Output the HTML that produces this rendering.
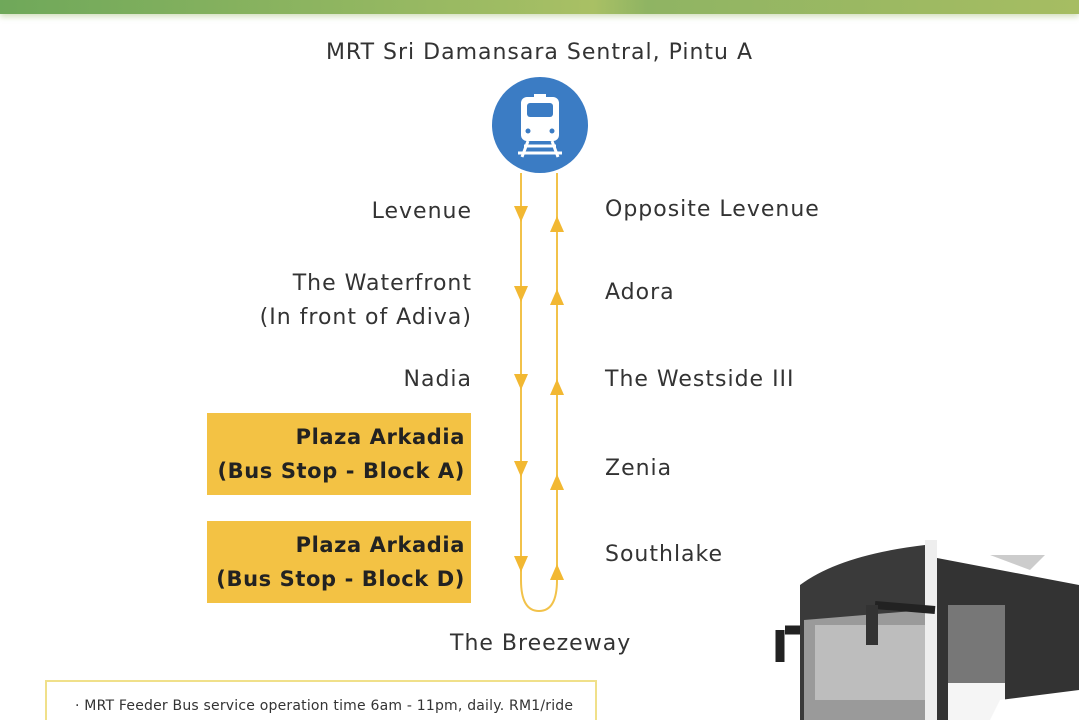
<!DOCTYPE html>
<html><head><meta charset="utf-8"><style>
body{margin:0;width:1079px;height:720px;background:#fff;position:relative;overflow:hidden;font-family:"DejaVu Sans",sans-serif;color:#333}
.t{position:absolute;font-size:22px;white-space:nowrap;line-height:34px;letter-spacing:1px}
.r{text-align:right}
.box{position:absolute;left:207px;width:264px;height:82px;background:#f3c244;font-weight:bold;font-size:21px;color:#222;text-align:right;box-sizing:border-box;padding:7px 6px 0 0;line-height:34px;letter-spacing:0.6px}
</style></head><body>
<div style="position:absolute;left:0;top:0;width:1079px;height:14px;background:linear-gradient(90deg,#6fa85a,#9dbb63 45%,#a9c064 55%,#8fb463 60%,#a6bd62);box-shadow:0 3px 6px rgba(150,180,100,.4)"></div>
<div class="t" style="left:0;width:1079px;text-align:center;top:36px">MRT Sri Damansara Sentral, Pintu A</div>
<svg style="position:absolute;left:0;top:0" width="1079" height="720">
<circle cx="540" cy="125" r="48" fill="#3b7cc4"/>
<rect x="521" y="97" width="38" height="44" rx="6" fill="#fff"/>
<rect x="527" y="103" width="26" height="14" rx="3" fill="#3b7cc4"/>
<rect x="534" y="94" width="12" height="3" fill="#fff"/>
<circle cx="528" cy="131" r="2.5" fill="#3b7cc4"/><circle cx="552" cy="131" r="2.5" fill="#3b7cc4"/>
<path d="M524 146h32M518 153h44M528 141l-6 16M552 141l6 16" stroke="#fff" stroke-width="3"/>
<g stroke="#f2c24a" stroke-width="2" fill="none">
<path d="M521 173V580Q521 611 539 611Q557 611 557 580V173"/>
</g>
<g fill="#f2b832">
<path d="M514 206h14l-7 16zM514 286h14l-7 16zM514 374h14l-7 16zM514 461h14l-7 16zM514 556h14l-7 16z"/>
<path d="M550 232h14l-7-16zM550 305h14l-7-16zM550 395h14l-7-16zM550 490h14l-7-16zM550 580h14l-7-16z"/>
</g>
<path d="M800 585Q840 555 925 545L925 720L800 720Z" fill="#3a3a3a"/>
<path d="M804 620L925 610V720H804Z" fill="#9a9a9a"/>
<path d="M815 625H925V700H815Z" fill="#bdbdbd"/>
<rect x="925" y="540" width="12" height="180" fill="#eee"/>
<path d="M937 558L1079 585V720H937Z" fill="#333"/>
<path d="M948 605H1005V683H948Z" fill="#777"/>
<path d="M948 683H1005V720H948Z" fill="#f5f5f5"/>
<path d="M1000 700L1079 690V720H990Z" fill="#fff"/>
<path d="M990 555L1045 555L1030 570Z" fill="#ccc"/>
<path d="M875 605L935 610" stroke="#222" stroke-width="8"/>
<path d="M872 605V645" stroke="#333" stroke-width="12"/>
<path d="M785 630H800M780 630V662" stroke="#222" stroke-width="9"/>
<rect x="46" y="681" width="550" height="50" fill="#fff" stroke="#f0e08a" stroke-width="2"/>
</svg>
<div class="t r" style="right:607px;top:195px">Levenue</div>
<div class="t" style="left:605px;top:193px">Opposite Levenue</div>
<div class="t r" style="right:607px;top:267px">The Waterfront<br>(In front of Adiva)</div>
<div class="t" style="left:605px;top:276px">Adora</div>
<div class="t r" style="right:607px;top:363px">Nadia</div>
<div class="t" style="left:605px;top:363px">The Westside III</div>
<div class="box" style="top:413px">Plaza Arkadia<br>(Bus Stop - Block A)</div>
<div class="t" style="left:605px;top:452px">Zenia</div>
<div class="box" style="top:521px">Plaza Arkadia<br>(Bus Stop - Block D)</div>
<div class="t" style="left:605px;top:538px">Southlake</div>
<div class="t" style="left:450px;top:627px">The Breezeway</div>
<div style="position:absolute;left:75px;top:698px;font-size:14px;letter-spacing:0.2px;color:#333">· MRT Feeder Bus service operation time 6am - 11pm, daily. RM1/ride</div>
</body></html>
